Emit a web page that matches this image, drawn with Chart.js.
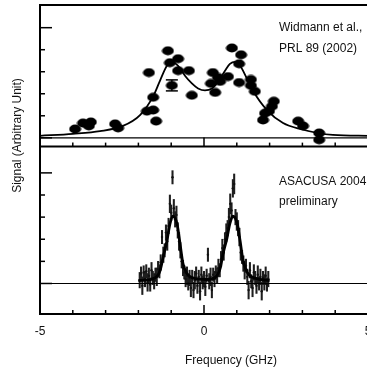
<!DOCTYPE html>
<html>
<head>
<meta charset="utf-8">
<script src="https://cdn.jsdelivr.net/npm/chart.js@4.4.0/dist/chart.umd.min.js"></script>
<style>
  html, body { margin: 0; padding: 0; background: #fff; overflow: hidden; }
  #wrap { width: 367px; height: 374px; overflow: hidden; }
</style>
</head>
<body>
<div id="wrap"><canvas id="spectrum" width="390" height="374"></canvas></div>
<script>
// upper panel: Widmann et al., PRL 89 (2002)
const freqA = [-3.93, -3.69, -3.45, -3.51, -2.71, -2.62, -1.74, -1.55, -1.55, -1.46,
               -1.68, -1.10, -1.04, -0.79, -0.79, -0.46, -0.37, 0.21, 0.34, 0.27,
               0.43, 0.49, 0.73, 0.85, 1.13, 1.07, 1.07, 1.43, 1.43, 1.55,
               1.86, 1.80, 2.07, 2.13, 1.98, 2.87, 3.02, 3.51, 3.51];
const sigA = [0.40, 0.67, 0.72, 0.54, 0.63, 0.45, 1.21, 1.26, 1.84, 0.76,
              2.96, 3.95, 3.41, 3.59, 3.05, 3.05, 1.93, 2.47, 2.06, 2.96,
              2.74, 2.56, 2.78, 4.08, 3.77, 3.36, 2.51, 2.65, 2.38, 2.11,
              1.12, 0.81, 1.43, 1.66, 1.21, 0.76, 0.54, 0.22, -0.09];
// the one point drawn with its error bar
const freqRef = [-0.98];
const sigRef = [2.38];
const errRef = [0.25];
// fit curve, upper panel
const fitAx = [-5, -4, -3.17, -2.47, -1.95, -1.55, -1.34, -1.13, -0.98, -0.79, -0.58, -0.37, -0.18,
               0.03, 0.24, 0.43, 0.64, 0.79, 0.95, 1.10, 1.31, 1.49, 1.92, 2.41, 2.93, 3.93, 5];
const fitAy = [0.09, 0.18, 0.30, 0.54, 1.03, 1.88, 2.60, 3.27, 3.45, 3.27, 2.82, 2.47, 2.24,
               2.15, 2.24, 2.56, 3.05, 3.36, 3.45, 3.27, 2.69, 2.15, 1.26, 0.67, 0.40, 0.13, 0.09];

// lower panel: ASACUSA 2004 preliminary
const freqB = [-1.96, -1.92, -1.88, -1.84, -1.80, -1.76, -1.72, -1.68, -1.64, -1.60,
               -1.56, -1.52, -1.48, -1.44, -1.40, -1.36, -1.32, -1.28, -1.24, -1.20,
               -1.16, -1.12, -1.08, -1.04, -1.00, -0.96, -0.92, -0.88, -0.84, -0.80,
               -0.76, -0.72, -0.68, -0.64, -0.60, -0.56, -0.52, -0.48, -0.44, -0.40,
               -0.36, -0.32, -0.28, -0.24, -0.20, -0.16, -0.12, -0.08, -0.04, 0.00,
               0.04, 0.08, 0.12, 0.16, 0.20, 0.24, 0.28, 0.32, 0.36, 0.40,
               0.44, 0.48, 0.52, 0.56, 0.60, 0.64, 0.68, 0.72, 0.76, 0.80,
               0.84, 0.88, 0.92, 0.96, 1.00, 1.04, 1.08, 1.12, 1.16, 1.20,
               1.24, 1.28, 1.32, 1.36, 1.40, 1.44, 1.48, 1.52, 1.56, 1.60,
               1.64, 1.68, 1.72, 1.76, 1.80, 1.84, 1.88, 1.92, 1.96];
const sigB = [0.15, 0.45, -0.10, 0.50, 0.20, 0.55, 0.05, 0.35, -0.05, 0.60,
              0.25, 0.10, 0.40, 0.30, 0.65, 0.55, 0.95, 2.10, 1.30, 1.50,
              2.30, 1.90, 2.60, 3.60, 3.20, 4.80, 3.40, 2.90, 3.10, 2.40,
              1.90, 1.50, 1.00, 0.70, 0.50, 0.20, 0.35, 0.00, 0.25, -0.20,
              0.30, -0.30, 0.15, 0.45, -0.10, 0.30, -0.35, 0.40, 0.05, 0.20,
              -0.15, 0.35, 1.30, 0.10, 0.30, -0.30, 0.40, 0.20, 0.50, 0.35,
              0.70, 0.60, 1.10, 1.60, 1.40, 2.00, 2.30, 2.50, 3.00, 3.60,
              3.30, 4.30, 4.50, 3.00, 2.80, 2.50, 2.10, 1.40, 1.20, 0.90,
              0.60, 0.80, 0.30, -0.30, 0.60, 0.10, -0.20, 0.50, 0.25, -0.10,
              0.40, 0.00, 0.30, -0.35, 0.25, 0.05, 0.35, -0.05, 0.20];
const errB = [0.35, 0.30, 0.40, 0.30, 0.35, 0.30, 0.40, 0.35, 0.30, 0.35,
              0.30, 0.35, 0.30, 0.40, 0.35, 0.30, 0.35, 0.30, 0.35, 0.30,
              0.35, 0.40, 0.35, 0.40, 0.35, 0.30, 0.40, 0.35, 0.40, 0.35,
              0.40, 0.35, 0.30, 0.35, 0.30, 0.35, 0.40, 0.30, 0.35, 0.40,
              0.30, 0.35, 0.40, 0.30, 0.35, 0.30, 0.40, 0.35, 0.30, 0.35,
              0.40, 0.30, 0.30, 0.35, 0.40, 0.35, 0.30, 0.35, 0.30, 0.35,
              0.40, 0.30, 0.35, 0.40, 0.35, 0.30, 0.40, 0.35, 0.40, 0.45,
              0.35, 0.40, 0.45, 0.35, 0.40, 0.35, 0.40, 0.35, 0.30, 0.35,
              0.40, 0.30, 0.35, 0.40, 0.35, 0.30, 0.40, 0.35, 0.30, 0.35,
              0.40, 0.30, 0.35, 0.40, 0.30, 0.35, 0.40, 0.30, 0.35];
// fit curve, lower panel
const fitBx = [-2.0, -1.7, -1.5, -1.4, -1.34, -1.25, -1.13, -1.04, -0.95, -0.82, -0.73, -0.64, -0.52, -0.34,
               0.09, 0.34, 0.49, 0.58, 0.70, 0.79, 0.88, 1.01, 1.10, 1.19, 1.34, 1.61, 2.0];
const fitBy = [0.13, 0.16, 0.25, 0.38, 0.58, 1.16, 1.93, 2.68, 3.04, 2.68, 1.79, 0.89, 0.45, 0.24,
               0.18, 0.27, 0.67, 1.34, 2.05, 2.72, 3.04, 2.72, 1.93, 1.03, 0.45, 0.22, 0.13];

const xLabels = ['-5', '0', '5'];
const yTickVals = [0, 1, 2, 3, 4, 5];

const FONT = "'Liberation Sans', Arial, Helvetica, sans-serif";
const INK = '#111';

const pts = (xs, ys) => xs.map((x, i) => ({x: x, y: ys[i]}));

// elliptical dots like the scanned figure
const dot = document.createElement('canvas');
dot.width = 13; dot.height = 10;
const dctx = dot.getContext('2d');
dctx.fillStyle = '#000';
dctx.beginPath();
dctx.ellipse(6.5, 5, 6, 4.4, 0, 0, 2 * Math.PI);
dctx.fill();

function seg(ctx, x1, y1, x2, y2) {
    ctx.beginPath();
    ctx.moveTo(x1, y1);
    ctx.lineTo(x2, y2);
    ctx.stroke();
}

const frame = {
    id: 'frame',
    afterDatasetsDraw(chart) {
        const {ctx, chartArea: a, scales: {x, yTop, yBot}} = chart;
        ctx.save();
        ctx.strokeStyle = '#000';

        // error bar with caps on the reference point
        ctx.lineWidth = 1.5;
        freqRef.forEach((f, i) => {
            const px = x.getPixelForValue(f);
            const lo = yTop.getPixelForValue(sigRef[i] - errRef[i]);
            const hi = yTop.getPixelForValue(sigRef[i] + errRef[i]);
            seg(ctx, px, lo, px, hi);
            seg(ctx, px - 6, lo, px + 6, lo);
            seg(ctx, px - 6, hi, px + 6, hi);
        });

        // top border and the divider between the panels
        ctx.lineWidth = 2;
        seg(ctx, a.left, a.top, a.right, a.top);
        const yDiv = yTop.getPixelForValue(-0.4);
        seg(ctx, a.left, yDiv, a.right, yDiv);

        // zero lines
        ctx.lineWidth = 1.2;
        [yTop, yBot].forEach(s => {
            const py = s.getPixelForValue(0);
            seg(ctx, a.left, py, a.right, py);
        });

        // inward ticks
        ctx.lineWidth = 1.5;
        x.ticks.forEach(t => {
            const px = x.getPixelForValue(t.value);
            const len = t.value === 0 ? 9 : 4;
            seg(ctx, px, yDiv, px, yDiv - len);
            seg(ctx, px, a.bottom, px, a.bottom - len);
        });
        [yTop, yBot].forEach(s => yTickVals.forEach(v => {
            const py = s.getPixelForValue(v);
            const len = (v === 0 || v === 5) ? 12 : 5;
            seg(ctx, a.left, py, a.left + len, py);
        }));

        // texts
        ctx.fillStyle = INK;
        ctx.font = '12px ' + FONT;
        ctx.textAlign = 'left';
        ctx.textBaseline = 'alphabetic';
        ctx.fillText('Widmann et al.,', 279, 30.5);
        ctx.fillText('PRL 89 (2002)', 279, 52);
        ctx.fillText('ASACUSA 2004', 279, 184.5);
        ctx.fillText('preliminary', 279, 204.5);

        ctx.textAlign = 'center';
        ctx.fillText('Frequency (GHz)', 231, 364);

        ctx.translate(21, 135.5);
        ctx.rotate(-Math.PI / 2);
        ctx.fillText('Signal (Arbitrary Unit)', 0, 0);
        ctx.restore();
    }
};

new Chart(document.getElementById('spectrum'), {
    type: 'line',
    data: {
        datasets: [
            {
                type: 'line', data: pts(fitAx, fitAy), yAxisID: 'yTop',
                borderColor: '#000', borderWidth: 1.8, pointRadius: 0,
                cubicInterpolationMode: 'monotone', order: 1
            },
            {
                type: 'scatter', data: pts(freqA, sigA), yAxisID: 'yTop',
                pointStyle: dot, showLine: false, order: 2
            },
            {
                type: 'scatter', data: pts(freqRef, sigRef), yAxisID: 'yTop',
                pointStyle: dot, showLine: false, order: 2
            },
            {
                type: 'line', data: pts(fitBx, fitBy), yAxisID: 'yBot',
                borderColor: '#000', borderWidth: 2.8, pointRadius: 0,
                cubicInterpolationMode: 'monotone', order: 0
            },
            {
                type: 'scatter', data: pts(freqB, sigB), yAxisID: 'yBot',
                pointRadius: 1.2, backgroundColor: '#111', borderWidth: 0,
                showLine: false, order: 2
            },
            {
                type: 'bar', yAxisID: 'yBot',
                data: freqB.map((f, i) => ({x: f, y: [sigB[i] - errB[i], sigB[i] + errB[i]]})),
                backgroundColor: '#1e1e1e', barThickness: 1.4, grouped: false, order: 3
            }
        ]
    },
    options: {
        responsive: false,
        animation: false,
        devicePixelRatio: 1,
        layout: {padding: {left: 0, top: 1, right: 22, bottom: 0}},
        plugins: {legend: {display: false}, tooltip: {enabled: false}},
        scales: {
            x: {
                type: 'linear', min: -5, max: 5, offset: false,
                afterFit: s => { s.height = 60; },
                ticks: {
                    stepSize: 1, padding: 2, color: INK,
                    font: {family: FONT, size: 12},
                    maxRotation: 0, autoSkip: false,
                    callback: v => xLabels.includes(String(v)) ? String(v) : ''
                },
                grid: {display: false},
                border: {display: true, color: '#000', width: 2}
            },
            yTop: {
                type: 'linear', position: 'left', min: -8.0, max: 6.03,
                display: false
            },
            yBot: {
                type: 'linear', position: 'left', min: -1.38, max: 12.59,
                afterFit: s => { s.width = 40; },
                ticks: {display: false},
                grid: {display: false},
                border: {display: true, color: '#000', width: 2}
            }
        }
    },
    plugins: [frame]
});
</script>
</body>
</html>
